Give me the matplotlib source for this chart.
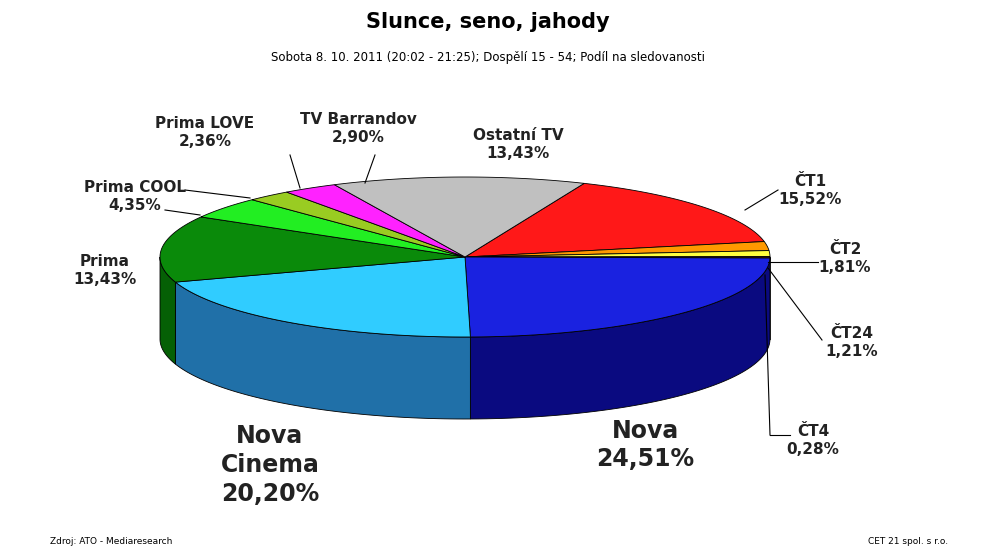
import numpy as np
import matplotlib
matplotlib.use("Agg")
import matplotlib.pyplot as plt
from matplotlib.patches import Polygon

channels = ["ČT1", "ČT2", "ČT24", "ČT4", "Nova", "Nova Cinema", "Prima",
            "Prima COOL", "Prima LOVE", "TV Barrandov", "Ostatní TV"]
shares = [15.52, 1.81, 1.21, 0.28, 24.51, 20.20, 13.43, 4.35, 2.36, 2.90, 13.43]
top_cols = ["#ff1818", "#ff9900", "#ffff40", "#663300", "#1a22e0", "#30ccff",
            "#0a8a0a", "#22ee22", "#99cc22", "#ff22ff", "#c0c0c0"]
side_cols = ["#b00000", "#b06a00", "#b0b020", "#3a1c00", "#0a0a80", "#2070a8",
             "#056005", "#119911", "#668811", "#aa11aa", "#808080"]

fig = plt.figure(figsize=(9.91, 5.58), dpi=100)
ax = fig.add_axes([0, 0, 1, 1])
ax.set_xlim(0, 991); ax.set_ylim(558, 0); ax.axis("off")

cx, cy, rx, ry, depth = 465, 257, 305, 80, 82
start = 67.0

def pt(a, dy=0):
    r = np.radians(a)
    return cx + rx*np.cos(r), cy - ry*np.sin(r) + dy

angs = [start]
for s in shares:
    angs.append(angs[-1] - s*3.6)

# side walls (front half)
for i in range(len(shares)):
    lo, hi = angs[i+1], angs[i]
    for off in (0, -360, 360):
        l, h = max(lo+off, -180), min(hi+off, 0)
        if h > l:
            t = np.linspace(l, h, 60)
            top = [pt(a) for a in t]
            bot = [pt(a, depth) for a in t[::-1]]
            ax.add_patch(Polygon(top+bot, closed=True, fc=side_cols[i], ec="k", lw=0.6))

# top face
for i in range(len(shares)):
    t = np.linspace(angs[i+1], angs[i], 80)
    pts = [(cx, cy)] + [pt(a) for a in t]
    ax.add_patch(Polygon(pts, closed=True, fc=top_cols[i], ec="k", lw=0.6))

labels = {
    "ČT1": (810, 190, 11), "ČT2": (845, 258, 11), "ČT24": (852, 342, 11),
    "ČT4": (813, 440, 11), "Nova": (645, 445, 17), "Nova Cinema": (270, 465, 17),
    "Prima": (105, 270, 11), "Prima COOL": (135, 197, 11), "Prima LOVE": (205, 133, 11),
    "TV Barrandov": (358, 128, 11), "Ostatní TV": (518, 145, 11),
}
for name, val in zip(channels, shares):
    x, y, s = labels[name]
    nm = "Nova\nCinema" if name == "Nova Cinema" else name
    ax.text(x, y, nm + "\n" + f"{val:.2f}".replace(".", ",") + "%", ha="center", va="center",
            fontsize=s, fontweight="bold", color="#222222", linespacing=1.25)

leaders = [((745, 210), (778, 190)), ((768, 262), (818, 262)), ((768, 268), (822, 340)),
           ((765, 275), (770, 435)), ((770, 435), (790, 435)),
           ((300, 188), (290, 155)), ((365, 183), (375, 155)),
           ((250, 198), (185, 190)), ((200, 215), (165, 210))]
for (x0, y0), (x1, y1) in leaders:
    ax.plot([x0, x1], [y0, y1], color="k", lw=0.8)

ax.text(488, 22, "Slunce, seno, jahody", ha="center", va="center", fontsize=15, fontweight="bold")
ax.text(488, 57, "Sobota 8. 10. 2011 (20:02 - 21:25); Dospělí 15 - 54; Podíl na sledovanosti",
        ha="center", va="center", fontsize=8.5)
ax.text(50, 541, "Zdroj: ATO - Mediaresearch", ha="left", va="center", fontsize=6.5)
ax.text(948, 541, "CET 21 spol. s r.o.", ha="right", va="center", fontsize=6.5)

fig.savefig("out.png", dpi=100)
